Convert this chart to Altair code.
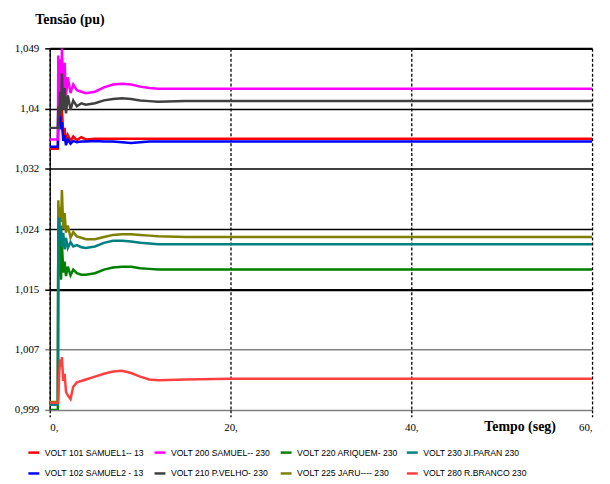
import altair as alt
import pandas as pd

# ---- data ----
time_s = [0, 0.9, 0.95, 1.05, 1.15, 1.25, 1.35, 1.5, 1.65, 1.8, 2.0, 2.3, 2.6, 3.0, 3.5,
          4.0, 5.0, 6.0, 7.0, 8.0, 9.0, 10.0, 11.0, 12.0, 15.0, 20.0, 30.0, 40.0, 50.0, 60.0]

v101 = [1.0351, 1.0351, 1.0385, 1.0400, 1.0424, 1.0385, 1.0405, 1.0372, 1.0380, 1.0360,
        1.0370, 1.0362, 1.0368, 1.0363, 1.0367, 1.0364, 1.0365, 1.0365, 1.0365, 1.0365,
        1.0365, 1.0365, 1.0365, 1.0365, 1.0365, 1.0365, 1.0365, 1.0365, 1.0365, 1.0365]
v102 = [1.0354, 1.0354, 1.0403, 1.0390, 1.0398, 1.0378, 1.0388, 1.0362, 1.0370, 1.0356,
        1.0364, 1.0358, 1.0362, 1.0360, 1.0361, 1.0361, 1.0362, 1.0361, 1.0361, 1.0360,
        1.0359, 1.0360, 1.0361, 1.0361, 1.0361, 1.0361, 1.0361, 1.0361, 1.0361, 1.0361]
v200 = [1.0364, 1.0364, 1.0480, 1.0415, 1.0475, 1.0420, 1.0490, 1.0430, 1.0470, 1.0425,
        1.0450, 1.0428, 1.0440, 1.0432, 1.0430, 1.0428, 1.0430, 1.0436, 1.0440, 1.0441,
        1.0440, 1.0437, 1.0435, 1.0434, 1.0434, 1.0434, 1.0434, 1.0434, 1.0434, 1.0434]
v210 = [1.0380, 1.0380, 1.0410, 1.0395, 1.0430, 1.0400, 1.0455, 1.0405, 1.0435, 1.0400,
        1.0425, 1.0405, 1.0418, 1.0410, 1.0414, 1.0412, 1.0414, 1.0418, 1.0420, 1.0421,
        1.0420, 1.0418, 1.0417, 1.0416, 1.0417, 1.0417, 1.0417, 1.0417, 1.0417, 1.0417]
v220 = [0.9990, 0.9990, 1.0245, 1.0175, 1.0235, 1.0170, 1.0220, 1.0180, 1.0195, 1.0175,
        1.0188, 1.0176, 1.0184, 1.0179, 1.0177, 1.0177, 1.0179, 1.0184, 1.0187, 1.0188,
        1.0188, 1.0186, 1.0185, 1.0184, 1.0184, 1.0184, 1.0184, 1.0184, 1.0184, 1.0184]
v225 = [1.0001, 1.0001, 1.0280, 1.0245, 1.0270, 1.0250, 1.0294, 1.0240, 1.0262, 1.0235,
        1.0245, 1.0228, 1.0236, 1.0230, 1.0228, 1.0226, 1.0226, 1.0229, 1.0232, 1.0233,
        1.0233, 1.0232, 1.0231, 1.0230, 1.0229, 1.0229, 1.0229, 1.0229, 1.0229, 1.0229]
v230 = [0.9997, 0.9997, 1.0240, 1.0256, 1.0225, 1.0245, 1.0215, 1.0235, 1.0212, 1.0228,
        1.0214, 1.0222, 1.0216, 1.0218, 1.0215, 1.0214, 1.0216, 1.0221, 1.0224, 1.0224,
        1.0223, 1.0221, 1.0220, 1.0219, 1.0219, 1.0219, 1.0219, 1.0219, 1.0219, 1.0219]
v280 = [0.99997, 0.99997, 1.0005, 1.0040, 1.0060, 1.0050, 1.0063, 1.0030, 1.0040, 1.0015,
        1.0010, 1.0005, 1.0022, 1.0028, 1.0030, 1.0032, 1.0036, 1.0040, 1.0043, 1.0044,
        1.0041, 1.0036, 1.0032, 1.0031, 1.0032, 1.0033, 1.0033, 1.0033, 1.0033, 1.0033]

series_names = ["VOLT 101 SAMUEL1-- 13", "VOLT 200 SAMUEL-- 230", "VOLT 220 ARIQUEM- 230",
                "VOLT 230 JI.PARAN 230", "VOLT 102 SAMUEL2 - 13", "VOLT 210 P.VELHO- 230",
                "VOLT 225 JARU---- 230", "VOLT 280 R.BRANCO 230"]
series_values = [v101, v200, v220, v230, v102, v210, v225, v280]
series_colors = ["#FF0000", "#FF00FF", "#008000", "#008080",
                 "#0000FF", "#404040", "#808000", "#FF4040"]
draw_order = [0, 4, 1, 5, 2, 6, 3, 7]

y_tick_labels = ["0,999", "1,007", "1,015", "1,024", "1,032", "1,04", "1,049"]
x_tick_values = [0, 20, 40, 60]

y_min, y_max = 0.999, 1.049
step = (y_max - y_min) / 6
y_tick_values = [y_min + i * step for i in range(7)]

rows = []
for k in draw_order:
    for t, v in zip(time_s, series_values[k]):
        rows.append({"t": t, "v": v, "serie": series_names[k], "ord": draw_order.index(k)})
df = pd.DataFrame(rows)

label_list = "[" + ",".join("'%s'" % s for s in y_tick_labels) + "]"
y_label_expr = "%s[round((datum.value - %s) / %s)]" % (label_list, y_min, step)

serif = "Liberation Serif, Times New Roman, serif"
narrow = "Liberation Sans Narrow, Arial Narrow, Liberation Sans, Arial, sans-serif"

chart = alt.Chart(df).mark_line(strokeWidth=2.5, clip=True).encode(
    x=alt.X("t:Q",
            scale=alt.Scale(domain=[0, 60], nice=False, zero=False),
            axis=alt.Axis(values=x_tick_values, labelExpr="datum.value + ','",
                          title="Tempo (seg)", titleFont=serif, titleFontSize=14,
                          titleFontWeight="bold", titleX=473, titleY=17,
                          titleAlign="center", titleBaseline="middle",
                          labelFont=serif, labelFontSize=11, labelColor="#000",
                          labelPadding=11, labelBaseline="middle",
                          domain=False, grid=True, gridColor="#000", gridDash=[3, 2],
                          gridWidth=1.3, tickColor="#000", tickDash=[3, 2], tickSize=7,
                          tickWidth=1.3)),
    y=alt.Y("v:Q",
            scale=alt.Scale(domain=[y_min, y_max], nice=False, zero=False),
            axis=alt.Axis(values=y_tick_values, labelExpr=y_label_expr,
                          title="Tensão (pu)", titleFont=serif, titleFontSize=14,
                          titleFontWeight="bold", titleAngle=0, titleX=-15, titleY=-29,
                          titleAlign="left", titleBaseline="middle",
                          labelFont=serif, labelFontSize=11, labelColor="#000",
                          labelPadding=6,
                          domain=True, domainColor="#000", domainWidth=1.3,
                          grid=True,
                          gridColor={"condition": {"test": "datum.value < 1.01", "value": "#808080"},
                                     "value": "#000000"},
                          gridWidth={"condition": {"test": "datum.value > 1.048 || (datum.value > 1.015 && datum.value < 1.017)", "value": 2.2},
                                     "value": 1.5},
                          tickColor={"condition": {"test": "datum.value < 1.01", "value": "#808080"},
                                     "value": "#000000"},
                          tickSize=5, tickWidth=1.5)),
    color=alt.Color("serie:N",
                    scale=alt.Scale(domain=series_names, range=series_colors),
                    legend=alt.Legend(title=None, orient="none", legendX=-23, legendY=400,
                                      columns=4, direction="horizontal", gridAlign="all",
                                      symbolType="stroke", symbolSize=120,
                                      symbolStrokeWidth=2.5, labelFont=narrow,
                                      labelFontSize=8.7, labelColor="#000",
                                      columnPadding=0, rowPadding=9, labelOffset=4,
                                      labelLimit=200)),
    order=alt.Order("ord:Q"),
    detail="serie:N",
).properties(
    width=546, height=364,
    autosize=alt.AutoSizeParams(type="none"),
    padding={"left": 42, "top": 39, "right": 10, "bottom": 72},
    background="white",
).configure_view(stroke=None)

chart.save("out.html", embed_options={"renderer": "svg", "actions": False})
